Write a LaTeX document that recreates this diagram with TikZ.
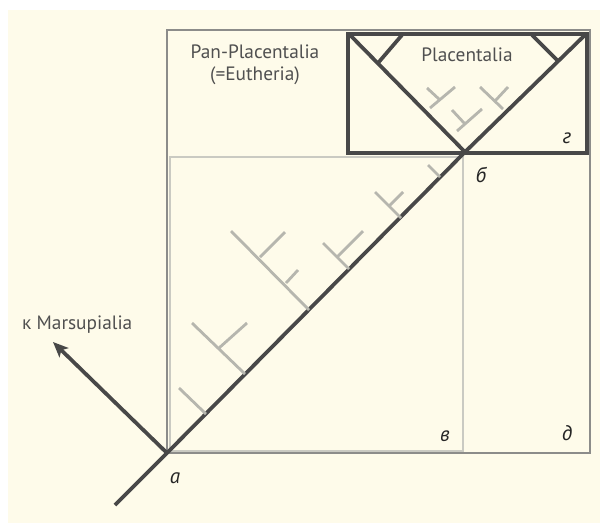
\documentclass[tikz,border=0pt]{standalone}
\usepackage{fontspec}
\setmainfont{PT Sans}
\usetikzlibrary{arrows.meta}
\definecolor{paper}{RGB}{254,251,234}
\definecolor{darkline}{RGB}{72,72,72}
\definecolor{boxline}{RGB}{140,140,138}
\definecolor{ghost}{RGB}{182,182,174}
\definecolor{innerbox}{RGB}{202,202,194}
\definecolor{txt}{RGB}{80,80,80}

\begin{document}
\begin{tikzpicture}[x=0.03cm, y=-0.03cm,
  every node/.style={font=\fontsize{16.5}{19}\selectfont, text=txt, inner sep=0pt},
  main/.style={darkline, line width=3.2pt},
  twig/.style={ghost, line width=2.4pt},
  letter/.style={font=\fontsize{18}{20}\selectfont\itshape, text=black!85},
]
\useasboundingbox (0,0) rectangle (600,523);
\fill[paper] (8,10) rectangle (600,523);

% frames
\draw[boxline, line width=1.7pt] (167,30) rectangle (590,453);
\draw[innerbox, line width=1.2pt] (170,157) rectangle (463,451);
\draw[darkline, line width=2.6pt] (348,34) rectangle (587,153);

% key points of the tree
\coordinate (root) at (115,505);
\coordinate (a) at (167,453);
\coordinate (b) at (465,152);
\coordinate (pl) at (350,35);
\coordinate (pr) at (586,34);
\coordinate (marsu) at (53,342);

% stem and crown
\draw[main] (root) -- (a) -- (b) -- (pr);
\draw[main] (b) -- (pl);
\draw[main] (378,63) -- (402,35);
\draw[main] (558,61) -- (532,35);
\draw[main, -{Stealth[length=13pt, width=11pt, inset=3pt]}] (a) -- (marsu);

% extinct lineages (grey)
\foreach \xa/\ya/\xb/\yb in {206/414/179/388, 245/374/192/323, 219/348/247/323,
                   309/310/231/231, 260/257/285/232, 286/283/298/270,
                   349/269/323/243, 337/257/363/231,
                   401/218/375/192, 389/206/403/192, 440/177/428/165,
                   430/108/455/87, 427/88/440/100,
                   457/131/482/109, 452/110/465/124,
                   480/87/503/109, 508/87/495/101}{
  \draw[twig] (\xa,\ya) -- (\xb,\yb);
}

% labels
\node[align=center] (pan) at (255,65) {Pan-Placentalia\\(=Eutheria)};
\node (plac) at (467,55) {Placentalia};
\node[anchor=west] (mlab) at (22,325) {к Marsupialia};
\node[letter] (la) at (175,478) {а};
\node[letter] (lb) at (481,175) {б};
\node[letter] (lv) at (445,436) {в};
\node[letter] (lg) at (567,138) {г};
\node[letter] (ld) at (567,433) {д};
\end{tikzpicture}
\end{document}
